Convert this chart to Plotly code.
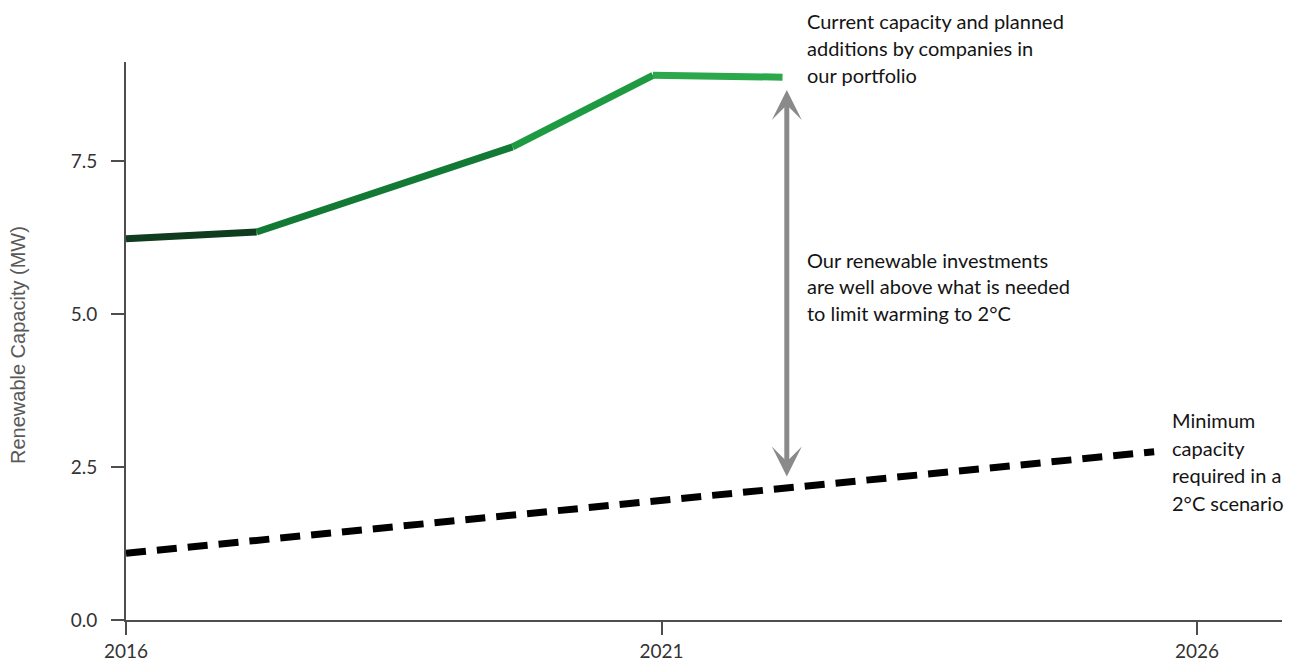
import plotly.graph_objects as go

# ---- data ----
years_portfolio = [2016, 2017.22, 2019.61, 2020.92, 2022.13]
capacity_portfolio = [6.23, 6.34, 7.73, 8.90, 8.87]
segment_colors = ["#0f3b1f", "#137a36", "#1e9a42", "#2aa84a"]

years_2c = [2016, 2025.6]
capacity_2c = [1.09, 2.75]

x_ticks = [2016, 2021, 2026]
x_tick_labels = ["2016", "2021", "2026"]
y_ticks = [0, 2.5, 5, 7.5]
y_tick_labels = ["0.0", "2.5", "5.0", "7.5"]

arrow_year = 2022.17
arrow_top = 8.66
arrow_bottom = 2.32

label_portfolio = ["Current capacity and planned", "additions by companies in", "our portfolio"]
label_gap = ["Our renewable investments", "are well above what is needed", "to limit warming to 2°C"]
label_2c = ["Minimum", "capacity", "required in a", "2°C scenario"]
y_title = "Renewable Capacity (MW)"

# ---- layout geometry ----
W, H = 1297, 664
ML, MR, MT, MB = 126, 15, 62, 44
PW, PH = W - ML - MR, H - MT - MB


def px_x(px):
    return (px - ML) / PW


def px_y(py):
    return (H - MB - py) / PH


fig = go.Figure()

for i in range(len(years_portfolio) - 1):
    fig.add_trace(go.Scatter(
        x=years_portfolio[i:i + 2], y=capacity_portfolio[i:i + 2],
        mode="lines", line=dict(color=segment_colors[i], width=7),
        hoverinfo="skip", showlegend=False, cliponaxis=False))

fig.add_trace(go.Scatter(
    x=years_2c, y=capacity_2c, mode="lines",
    line=dict(color="#000000", width=7, dash="20px,11px"),
    hoverinfo="skip", showlegend=False, cliponaxis=False))

annotations = []
# double-headed arrow
annotations.append(dict(
    x=arrow_year, y=arrow_top, ax=arrow_year, ay=arrow_bottom,
    xref="x", yref="y", axref="x", ayref="y",
    text="", showarrow=True, arrowside="end+start",
    arrowhead=3, arrowsize=1.0, arrowwidth=5, arrowcolor="#8a8a8a"))

FS = 20
FONT = dict(family="Lato", size=FS, color="#141414")


def add_lines(lines, left_px, baselines):
    for t, b in zip(lines, baselines):
        annotations.append(dict(
            text=t, xref="paper", yref="paper",
            x=px_x(left_px), y=px_y(b - 7), xanchor="left", yanchor="middle",
            showarrow=False, font=FONT, align="left"))


add_lines(label_portfolio, 805, [28, 55, 82])
add_lines(label_gap, 805, [267, 293, 320])
add_lines(label_2c, 1170, [427, 455, 482, 510])

annotations.append(dict(
    text=y_title, xref="paper", yref="paper", x=px_x(18), y=px_y(345),
    xanchor="center", yanchor="middle", textangle=-90, showarrow=False,
    font=dict(family="Liberation Sans", size=20, color="#595959")))

axis_common = dict(
    showline=True, linecolor="#4d4d4d", linewidth=2,
    ticks="outside", ticklen=13, tickwidth=2, tickcolor="#4d4d4d",
    showgrid=False, zeroline=False, fixedrange=True, automargin=False)

fig.update_layout(
    width=W, height=H,
    margin=dict(l=ML, r=MR, t=MT, b=MB, autoexpand=False),
    paper_bgcolor="white", plot_bgcolor="white",
    annotations=annotations,
    xaxis=dict(range=[2016, 2016 + PW / 107.1], tickvals=x_ticks, ticktext=x_tick_labels,
               tickfont=dict(family="Lato", size=19, color="#333333"), **axis_common),
    yaxis=dict(range=[0, PH / 61.2], tickvals=y_ticks, ticktext=y_tick_labels,
               tickfont=dict(family="Lato", size=19, color="#333333"),
               ticklabelstandoff=10, **axis_common),
)

fig.write_html("out.html")
